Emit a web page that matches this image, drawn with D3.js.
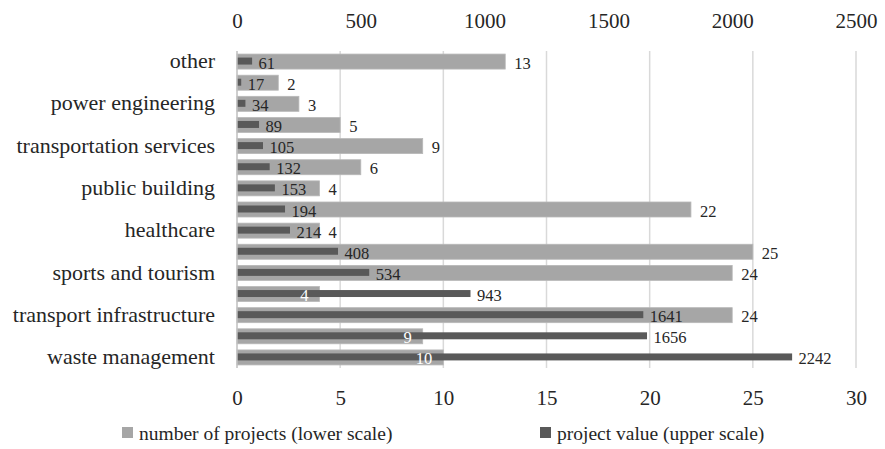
<!DOCTYPE html>
<html>
<head>
<meta charset="utf-8">
<script src="https://cdn.jsdelivr.net/npm/d3@7/dist/d3.min.js"></script>
<style>
  html, body { margin: 0; padding: 0; background: #ffffff; }
  svg { display: block; font-family: "Liberation Serif", "Times New Roman", serif; }
</style>
</head>
<body>
<div id="chart"></div>
<script>
// Row labels, top to bottom (unlabelled rows are left blank on the axis)
const categories = [
  "other", "", "power engineering", "", "transportation services", "",
  "public building", "", "healthcare", "", "sports and tourism", "",
  "transport infrastructure", "", "waste management"
];
// Number of projects (lower scale)
const projectCounts = [13, 2, 3, 5, 9, 6, 4, 22, 4, 25, 24, 4, 24, 9, 10];
// Project value (upper scale)
const projectValues = [61, 17, 34, 89, 105, 132, 153, 194, 214, 408, 534, 943, 1641, 1656, 2242];

const countTicks = [0, 5, 10, 15, 20, 25, 30];
const valueTicks = [0, 500, 1000, 1500, 2000, 2500];
const seriesNames = ["number of projects (lower scale)", "project value (upper scale)"];

const W = 885, H = 449;
const plot = { left: 237, right: 856, top: 51, bottom: 368 };
const colLight = "#a6a6a6", colDark = "#595959", textCol = "#262626";
const serif = "Liberation Serif, serif";

const svg = d3.select("#chart").append("svg").attr("width", W).attr("height", H);

const xCount = d3.scaleLinear().domain([0, 30]).range([plot.left, plot.right]);
const xValue = d3.scaleLinear().domain([0, 2500]).range([plot.left, plot.right]);
const y = d3.scaleBand().domain(d3.range(categories.length)).range([plot.top, plot.bottom]).padding(0);

const rowH = y.bandwidth();
const lightH = rowH * 0.71;
const darkH = rowH * 0.33;
const cy = i => y(i) + rowH / 2;

// vertical gridlines at the lower-scale ticks
svg.append("g").selectAll("line")
  .data(countTicks.slice(1))
  .join("line")
  .attr("x1", d => xCount(d)).attr("x2", d => xCount(d))
  .attr("y1", plot.top).attr("y2", plot.bottom)
  .attr("stroke", "#d9d9d9").attr("stroke-width", 1.5);

// number-of-projects bars
svg.append("g").selectAll("rect")
  .data(projectCounts)
  .join("rect")
  .attr("x", xCount(0))
  .attr("y", (d, i) => cy(i) - lightH / 2)
  .attr("width", d => xCount(d) - xCount(0))
  .attr("height", lightH)
  .attr("fill", colLight)
  .attr("stroke", "#b8b8b8").attr("stroke-width", 0.8);

// project-value bars, drawn over the count bars
svg.append("g").selectAll("rect")
  .data(projectValues)
  .join("rect")
  .attr("x", xValue(0))
  .attr("y", (d, i) => cy(i) - darkH / 2 - 0.5)
  .attr("width", d => xValue(d) - xValue(0))
  .attr("height", darkH)
  .attr("fill", colDark);

// left axis line
svg.append("line")
  .attr("x1", plot.left).attr("x2", plot.left)
  .attr("y1", plot.top).attr("y2", plot.bottom)
  .attr("stroke", "#bfbfbf").attr("stroke-width", 1.5);

// count labels: outside the bar end, or inside in white where the value bar runs past it
svg.append("g").selectAll("text")
  .data(projectCounts)
  .join("text")
  .attr("font-size", 16.5)
  .attr("font-family", serif)
  .each(function (d, i) {
    const inside = xValue(projectValues[i]) > xCount(d);
    d3.select(this)
      .attr("x", inside ? xCount(d) - 11 : xCount(d) + 9)
      .attr("y", cy(i) + 7)
      .attr("text-anchor", inside ? "end" : "start")
      .attr("fill", inside ? "#ffffff" : textCol)
      .text(d);
  });

// value labels
svg.append("g").selectAll("text")
  .data(projectValues)
  .join("text")
  .attr("font-size", 16.5)
  .attr("font-family", serif)
  .attr("x", d => xValue(d) + 6.5)
  .attr("y", (d, i) => cy(i) + 7)
  .attr("fill", textCol)
  .text(d => d);

// category axis
const yAxis = svg.append("g")
  .attr("transform", `translate(${plot.left - 22},0)`)
  .call(d3.axisLeft(y).tickSize(0).tickPadding(0).tickFormat(i => categories[i]));
yAxis.select(".domain").remove();
yAxis.selectAll("text")
  .attr("font-size", 22).attr("fill", textCol)
  .attr("font-family", serif)
  .attr("dy", "0.3em");

// upper (value) axis
const topAxis = svg.append("g")
  .attr("transform", `translate(0,${28})`)
  .call(d3.axisTop(xValue).tickValues(valueTicks).tickSize(0).tickPadding(0).tickFormat(d3.format("d")));
topAxis.select(".domain").remove();
topAxis.selectAll("text")
  .attr("font-size", 21).attr("fill", textCol)
  .attr("font-family", serif)
  .attr("dy", "0");

// lower (count) axis
const bottomAxis = svg.append("g")
  .attr("transform", `translate(0,${405})`)
  .call(d3.axisBottom(xCount).tickValues(countTicks).tickSize(0).tickPadding(0).tickFormat(d3.format("d")));
bottomAxis.select(".domain").remove();
bottomAxis.selectAll("text")
  .attr("font-size", 21).attr("fill", textCol)
  .attr("font-family", serif)
  .attr("dy", "0");

// legend
const legendItems = [
  { name: seriesNames[0], color: colLight, x: 122 },
  { name: seriesNames[1], color: colDark, x: 540 }
];
const lg = svg.append("g").selectAll("g")
  .data(legendItems)
  .join("g")
  .attr("transform", d => `translate(${d.x},${427})`);
lg.append("rect").attr("width", 11).attr("height", 11).attr("fill", d => d.color);
lg.append("text")
  .attr("x", 17).attr("y", 13)
  .attr("font-size", 19.5).attr("fill", textCol)
  .attr("font-family", serif)
  .text(d => d.name);
</script>
</body>
</html>
